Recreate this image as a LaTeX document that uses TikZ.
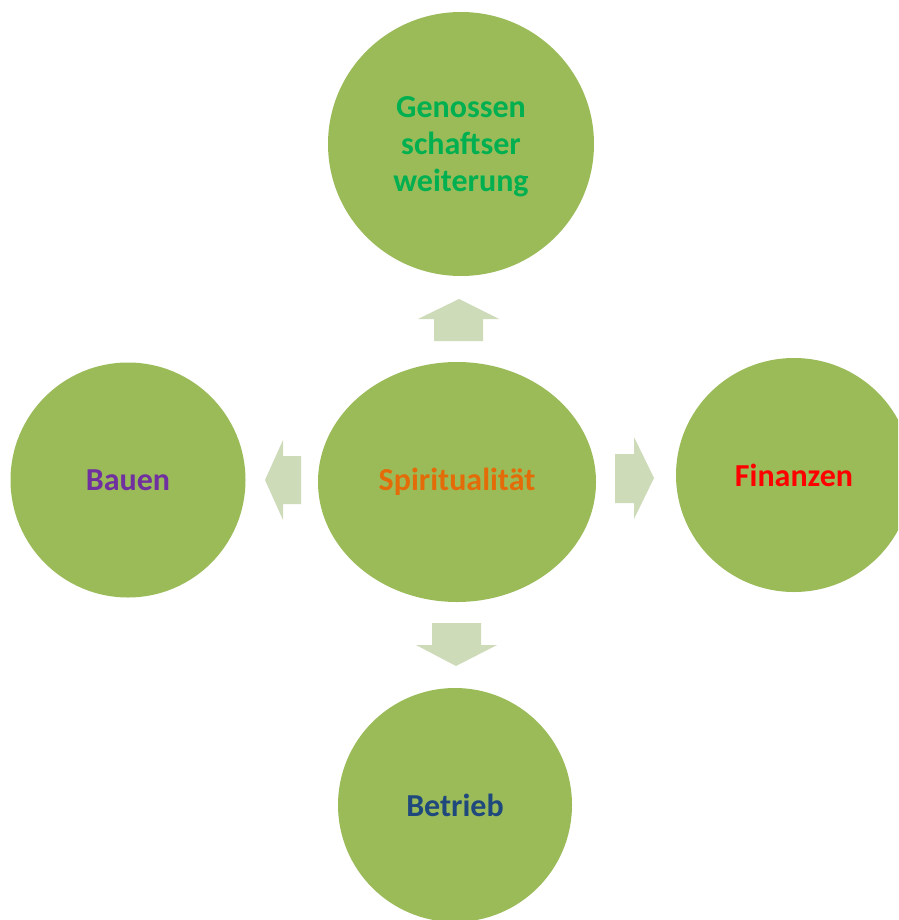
\documentclass[tikz,border=0pt]{standalone}
\usepackage{fontspec}
\setmainfont{Carlito}
\usetikzlibrary{shapes.geometric}
\definecolor{circfill}{HTML}{9BBB59}
\definecolor{arrfill}{HTML}{CDDBB8}
\definecolor{tgreen}{HTML}{00B050}
\definecolor{torange}{HTML}{E36C09}
\definecolor{tred}{HTML}{FF0000}
\definecolor{tpurple}{HTML}{7030A0}
\definecolor{tblue}{HTML}{1F497D}
\tikzset{
  bubble/.style={ellipse, fill=circfill, inner sep=0pt, align=center,
    font=\fontsize{32}{37}\selectfont\bfseries},
  blockarrow/.style={fill=arrfill, draw=none}
}
\begin{document}
\begin{tikzpicture}[x=1pt,y=-1pt]
\useasboundingbox (0,0) rectangle (898,920);
\clip (0,0) rectangle (898,920);
\node[bubble, minimum width=266pt, minimum height=264pt] (top) at (461,144) {};
\node[text=tgreen, align=center, font=\fontsize{32}{37}\selectfont\bfseries] (toptext) at (461,147) {Genossen\\schaftser\\weiterung};
\node[bubble, minimum width=278pt, minimum height=240pt, text=torange] (center) at (457,482) {Spiritualität};
\node[bubble, minimum width=235pt, minimum height=235pt, text=tpurple] (left) at (128,480) {Bauen};
\node[bubble, minimum width=236pt, minimum height=234pt, text=tred] (right) at (794,475) {Finanzen};
\node[bubble, minimum width=234pt, minimum height=234pt, text=tblue] (bottom) at (455,805) {Betrieb};
% up arrow
\fill[blockarrow] (434,341) -- (434,319) -- (418,319) -- (459,299) -- (499,319) -- (483,319) -- (483,341) -- cycle;
% right arrow
\fill[blockarrow] (615,454) -- (634,454) -- (634,437) -- (654,478) -- (634,519) -- (634,503) -- (615,503) -- cycle;
% left arrow
\fill[blockarrow] (301,456) -- (283,456) -- (283,440) -- (265,480) -- (283,520) -- (283,504) -- (301,504) -- cycle;
% down arrow
\fill[blockarrow] (432,623) -- (481,623) -- (481,645) -- (497,645) -- (456,666) -- (416,645) -- (432,645) -- cycle;
\end{tikzpicture}
\end{document}
